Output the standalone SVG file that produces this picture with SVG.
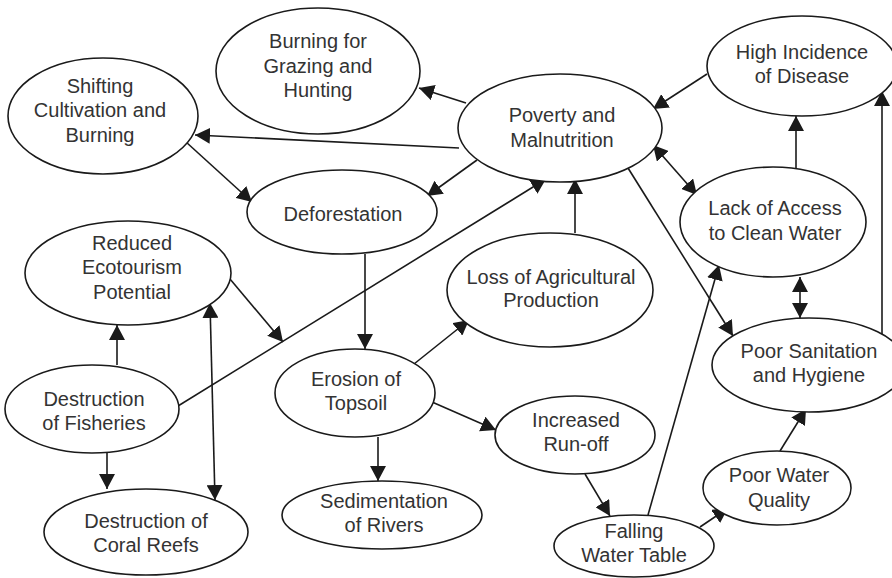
<svg xmlns="http://www.w3.org/2000/svg" width="892" height="578" viewBox="0 0 892 578">
<defs>
<marker id="ah" viewBox="0 0 15 16" refX="15" refY="8" markerWidth="15" markerHeight="16" markerUnits="userSpaceOnUse" orient="auto-start-reverse">
<path d="M0,0 L15,8 L0,16 z" fill="#1a1a1a"/>
</marker>
<style>
.n ellipse{fill:#fff;stroke:#1a1a1a;stroke-width:1.6}
.n text{font-family:"Liberation Sans",Arial,sans-serif;font-size:20px;fill:#333;text-anchor:middle}
.e line{stroke:#1a1a1a;stroke-width:1.6;marker-end:url(#ah)}
.e line.b{marker-start:url(#ah)}
</style>
</defs>
<rect width="892" height="578" fill="#fff"/>
<g class="e" id="connectors">
<line x1="466" y1="103" x2="419" y2="88"/>
<line x1="459" y1="148" x2="195" y2="135"/>
<line x1="186" y1="142" x2="252" y2="202"/>
<line x1="477" y1="160" x2="427" y2="196"/>
<line x1="707" y1="74" x2="653" y2="109"/>
<line class="b" x1="697" y1="195" x2="653" y2="145"/>
<line x1="796" y1="168" x2="796" y2="116"/>
<line x1="882" y1="335" x2="882" y2="91"/>
<line x1="628" y1="168" x2="733" y2="336"/>
<line x1="575" y1="233" x2="575" y2="179"/>
<line x1="178" y1="406" x2="546" y2="179"/>
<line x1="230" y1="279" x2="283" y2="342"/>
<line x1="117" y1="365" x2="117" y2="325"/>
<line x1="107" y1="453" x2="107" y2="489"/>
<line class="b" x1="215" y1="500" x2="210" y2="303"/>
<line x1="365" y1="254" x2="365" y2="349"/>
<line x1="414" y1="364" x2="469" y2="320"/>
<line x1="378" y1="437" x2="378" y2="481"/>
<line x1="432" y1="402" x2="496" y2="430"/>
<line x1="585" y1="474" x2="610" y2="516"/>
<line x1="648" y1="515" x2="719" y2="265"/>
<line x1="700" y1="527" x2="728" y2="508"/>
<line x1="780" y1="451" x2="806" y2="409"/>
<line class="b" x1="800" y1="277" x2="800" y2="318"/>
</g>
<g class="n" id="burning-grazing"><ellipse cx="318" cy="71" rx="102" ry="63"/><text x="318" y="48">Burning for</text><text x="318" y="73">Grazing and</text><text x="318" y="97">Hunting</text></g>
<g class="n" id="shifting"><ellipse cx="103" cy="116" rx="95" ry="58"/><text x="100" y="93">Shifting</text><text x="100" y="117">Cultivation and</text><text x="100" y="142">Burning</text></g>
<g class="n" id="poverty"><ellipse cx="560" cy="128" rx="102" ry="54"/><text x="562" y="122">Poverty and</text><text x="562" y="147">Malnutrition</text></g>
<g class="n" id="disease"><ellipse cx="802" cy="66" rx="95" ry="50"/><text x="802" y="59">High Incidence</text><text x="802" y="83">of Disease</text></g>
<g class="n" id="deforestation"><ellipse cx="342" cy="212" rx="95" ry="42"/><text x="343" y="221">Deforestation</text></g>
<g class="n" id="ecotourism"><ellipse cx="128" cy="273" rx="103" ry="52"/><text x="132" y="250">Reduced</text><text x="132" y="274">Ecotourism</text><text x="132" y="299">Potential</text></g>
<g class="n" id="erosion"><ellipse cx="355" cy="393" rx="80" ry="44"/><text x="356" y="386">Erosion of</text><text x="356" y="410">Topsoil</text></g>
<g class="n" id="agri"><ellipse cx="550" cy="290" rx="103" ry="57"/><text x="551" y="284">Loss of Agricultural</text><text x="551" y="307">Production</text></g>
<g class="n" id="water-access"><ellipse cx="773" cy="222" rx="93" ry="55"/><text x="775" y="215">Lack of Access</text><text x="775" y="240">to Clean Water</text></g>
<g class="n" id="sanitation"><ellipse cx="809" cy="365" rx="97" ry="47"/><text x="809" y="358">Poor Sanitation</text><text x="809" y="382">and Hygiene</text></g>
<g class="n" id="fisheries"><ellipse cx="92" cy="409" rx="87" ry="44"/><text x="94" y="406">Destruction</text><text x="94" y="430">of Fisheries</text></g>
<g class="n" id="coral"><ellipse cx="146" cy="532" rx="102" ry="43"/><text x="146" y="528">Destruction of</text><text x="146" y="552">Coral Reefs</text></g>
<g class="n" id="sedimentation"><ellipse cx="382" cy="515" rx="100" ry="34"/><text x="384" y="508">Sedimentation</text><text x="384" y="532">of Rivers</text></g>
<g class="n" id="runoff"><ellipse cx="575" cy="435" rx="80" ry="39"/><text x="576" y="427">Increased</text><text x="576" y="451">Run-off</text></g>
<g class="n" id="water-table"><ellipse cx="634" cy="546" rx="80" ry="31"/><text x="634" y="538">Falling</text><text x="634" y="562">Water Table</text></g>
<g class="n" id="water-quality"><ellipse cx="777" cy="488" rx="74" ry="37"/><text x="779" y="482">Poor Water</text><text x="779" y="507">Quality</text></g>
</svg>
